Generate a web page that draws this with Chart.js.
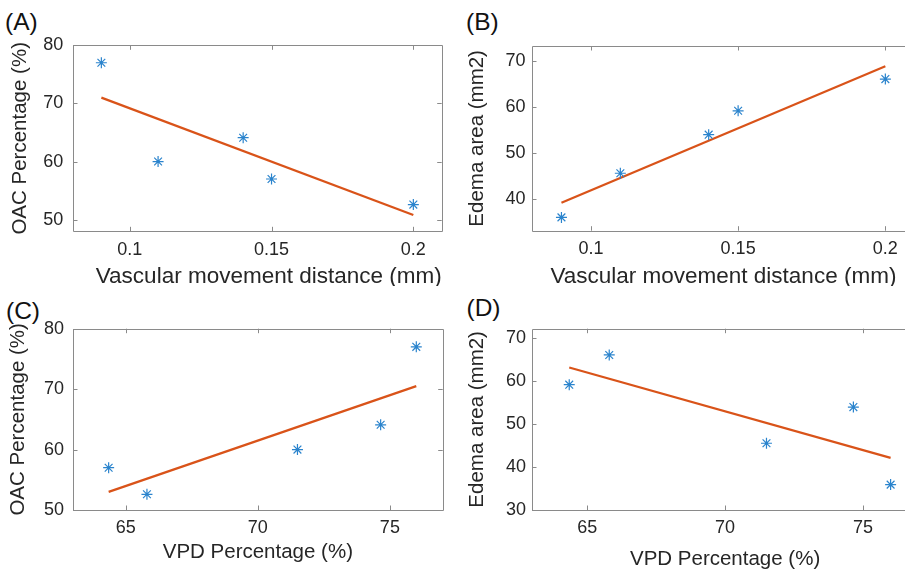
<!DOCTYPE html>
<html>
<head>
<meta charset="utf-8">
<script src="https://cdn.jsdelivr.net/npm/chart.js@4/dist/chart.umd.min.js"></script>
<style>
  html, body { margin: 0; padding: 0; background: #ffffff; }
  body { width: 905px; height: 572px; overflow: hidden; position: relative; }
  canvas { position: absolute; }
  .plabel { position: absolute; font-family: "Liberation Sans", Arial, sans-serif; font-size: 24.5px; color: #111111; line-height: 24.5px; white-space: nowrap; }
</style>
</head>
<body>
<div class="plabel" style="left:5px;top:10.4px;">(A)</div>
<div class="plabel" style="left:466px;top:10.4px;">(B)</div>
<div class="plabel" style="left:6px;top:298.8px;">(C)</div>
<div class="plabel" style="left:466.5px;top:296.4px;">(D)</div>
<canvas id="cA" width="452" height="286" style="left:0px;top:0px;"></canvas>
<canvas id="cB" width="480" height="286" style="left:452px;top:0px;"></canvas>
<canvas id="cC" width="452" height="286" style="left:0px;top:286px;"></canvas>
<canvas id="cD" width="480" height="286" style="left:452px;top:286px;"></canvas>
<script>
// ---- data ----
const distance = [0.09, 0.11, 0.14, 0.15, 0.20];       // Vascular movement distance (mm)
const oac      = [77.0, 60.0, 64.1, 57.0, 52.6];        // OAC Percentage (%)
const edema    = [35.9, 45.5, 53.9, 59.1, 66.0];        // Edema area (mm2)
const vpd      = [76.0, 71.5, 74.65, 64.35, 65.8];      // VPD Percentage (%)

// fitted lines (end points)
const fitAx = [0.09, 0.20];   const fitAy = [71.0, 50.8];
const fitBx = [0.09, 0.20];   const fitBy = [39.1, 68.8];
const fitCx = [64.35, 76.0];  const fitCy = [53.0, 70.5];
const fitDx = [64.35, 76.0];  const fitDy = [63.1, 42.1];

// tick labels
const distTicks  = [0.1, 0.15, 0.2];
const vpdTicks   = [65, 70, 75];
const oacTicks   = [50, 60, 70, 80];
const edemaTicksB = [40, 50, 60, 70];
const edemaTicksD = [30, 40, 50, 60, 70];

const FONT = '"Liberation Sans", Arial, sans-serif';
const TXT = '#262626';
const BOX = '#8a8a8a';
const BLUE = '#2b84cd';
const ORANGE = '#D95319';

const boxPlugin = {
  id: 'boxTicks',
  afterDatasetsDraw(chart) {
    const {ctx, chartArea: a, scales} = chart;
    const xs = scales.x, ys = scales.y;
    const L = 4.5;
    ctx.save();
    ctx.strokeStyle = BOX;
    ctx.lineWidth = 1;
    ctx.beginPath();
    ctx.rect(Math.round(a.left) + 0.5, Math.round(a.top) + 0.5,
             Math.round(a.right) - Math.round(a.left), Math.round(a.bottom) - Math.round(a.top));
    ctx.stroke();
    ctx.beginPath();
    xs.ticks.forEach(t => {
      const p = Math.round(xs.getPixelForValue(t.value)) + 0.5;
      ctx.moveTo(p, a.bottom); ctx.lineTo(p, a.bottom - L);
      ctx.moveTo(p, a.top); ctx.lineTo(p, a.top + L);
    });
    ys.ticks.forEach(t => {
      const p = Math.round(ys.getPixelForValue(t.value)) + 0.5;
      ctx.moveTo(a.left, p); ctx.lineTo(a.left + L, p);
      ctx.moveTo(a.right, p); ctx.lineTo(a.right - L, p);
    });
    ctx.stroke();
    ctx.restore();
  }
};

function pts(xv, yv) { return xv.map((x, i) => ({x: x, y: yv[i]})); }

function makeChart(id, c) {
  const canvas = document.getElementById(id);
  const W = canvas.width, H = canvas.height;
  new Chart(canvas, {
    type: 'scatter',
    data: {
      datasets: [
        {
          data: pts(c.xs, c.ys),
          pointStyle: 'star',
          pointRadius: 5.5,
          pointBorderWidth: 1.2,
          borderColor: BLUE,
          backgroundColor: BLUE,
          showLine: false
        },
        {
          data: pts(c.fx, c.fy),
          showLine: true,
          borderColor: ORANGE,
          borderWidth: 2.2,
          pointRadius: 0,
          fill: false
        }
      ]
    },
    options: {
      responsive: false,
      animation: false,
      events: [],
      devicePixelRatio: 1,
      layout: { padding: { left: 0, top: c.area.t, right: W - c.area.r, bottom: 0 } },
      plugins: { legend: { display: false }, tooltip: { enabled: false } },
      scales: {
        x: {
          type: 'linear',
          min: c.xMin, max: c.xMax,
          grid: { display: false, drawTicks: false },
          border: { display: false },
          afterBuildTicks: s => { s.ticks = c.xTicks.map(v => ({value: v})); },
          afterFit: s => { s.height = H - c.area.b; s.paddingLeft = 0; s.paddingRight = 0; },
          ticks: {
            color: TXT, font: { family: FONT, size: 18 }, padding: c.xTickPad,
            maxRotation: 0, autoSkip: false,
            callback: v => String(v)
          },
          title: {
            display: true, text: c.xTitle, color: TXT, align: c.xTitleAlign,
            font: { family: FONT, size: c.xTitleSize, lineHeight: 1 }, padding: { top: 0, bottom: c.xTitlePad }
          }
        },
        y: {
          type: 'linear',
          min: c.yMin, max: c.yMax,
          grid: { display: false, drawTicks: false },
          border: { display: false },
          afterBuildTicks: s => { s.ticks = c.yTicks.map(v => ({value: v})); },
          afterFit: s => { s.width = c.area.l; s.paddingTop = 0; s.paddingBottom = 0; },
          ticks: {
            color: TXT, font: { family: FONT, size: 18 }, padding: c.yTickPad,
            autoSkip: false,
            callback: v => String(v)
          },
          title: {
            display: true, text: c.yTitle, color: TXT,
            font: { family: FONT, size: 20.5 }, padding: { top: c.yTitlePad, bottom: 0 }
          }
        }
      }
    },
    plugins: [boxPlugin]
  });
}

makeChart('cA', {
  xs: distance, ys: oac, fx: fitAx, fy: fitAy,
  xMin: 0.08, xMax: 0.21, yMin: 48, yMax: 80,
  xTicks: distTicks, yTicks: oacTicks,
  xTitle: 'Vascular movement distance (mm)', yTitle: 'OAC Percentage (%)',
  area: { l: 73, t: 45.3, r: 441.7, b: 231.3 },
  xTickPad: 7.6, xTitleSize: 22.5, xTitleAlign: 'end', xTitlePad: -1.8, yTickPad: 9.7, yTitlePad: 7.7
});
makeChart('cB', {
  xs: distance, ys: edema, fx: fitBx, fy: fitBy,
  xMin: 0.08, xMax: 0.21, yMin: 33, yMax: 73.2,
  xTicks: distTicks, yTicks: edemaTicksB,
  xTitle: 'Vascular movement distance (mm)', yTitle: 'Edema area (mm2)',
  area: { l: 80, t: 46, r: 462.8, b: 230.7 },
  xTickPad: 7.5, xTitleSize: 22.5, xTitleAlign: 'center', xTitlePad: -2.5, yTickPad: 6.5, yTitlePad: 13.5
});
makeChart('cC', {
  xs: vpd, ys: oac, fx: fitCx, fy: fitCy,
  xMin: 63, xMax: 77, yMin: 50, yMax: 80,
  xTicks: vpdTicks, yTicks: oacTicks,
  xTitle: 'VPD Percentage (%)', yTitle: 'OAC Percentage (%)',
  area: { l: 73, t: 42.7, r: 442.7, b: 224 },
  xTickPad: 6.9, xTitleSize: 20.5, xTitleAlign: 'center', xTitlePad: 9.5, yTickPad: 9, yTitlePad: 6
});
makeChart('cD', {
  xs: vpd, ys: edema, fx: fitDx, fy: fitDy,
  xMin: 63, xMax: 77, yMin: 30, yMax: 72.1,
  xTicks: vpdTicks, yTicks: edemaTicksD,
  xTitle: 'VPD Percentage (%)', yTitle: 'Edema area (mm2)',
  area: { l: 80, t: 42.7, r: 466.2, b: 224 },
  xTickPad: 7.7, xTitleSize: 20.5, xTitleAlign: 'center', xTitlePad: 2.8, yTickPad: 6, yTitlePad: 12.7
});
</script>
</body>
</html>
